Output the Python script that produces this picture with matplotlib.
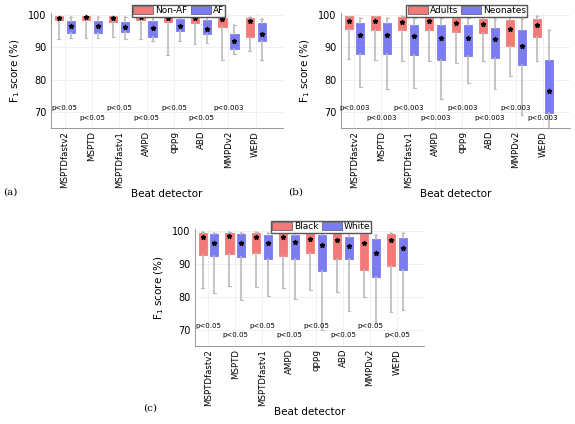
import matplotlib
matplotlib.use("Agg")
import matplotlib.pyplot as plt
from matplotlib.patches import Patch

detectors = ["MSPTDfastv2", "MSPTD", "MSPTDfastv1", "AMPD", "qppg", "ABD", "MMPDv2", "WEPD"]

# each: [whisker low, q1, median, q3, whisker high]
a_nonaf = [[92.5,98.5,99.2,99.7,99.8],[93,98.5,99.3,99.8,99.8],[93.3,97.8,98.9,99.6,99.8],[92.5,98.5,99.3,99.8,99.8],
           [87.5,97.8,99.1,99.6,99.8],[91,97.5,99,99.5,99.8],[86,96.3,98.7,99.2,99.8],[88.8,93.3,98,99.2,99.5]]
a_af = [[93,94.5,96.5,98,99.5],[92.8,94.5,96.6,98,99.5],[92.5,94.8,96.3,97.7,99.5],[92,93.2,96,98.2,99.5],
        [92,95,96.7,98.7,99.5],[91.3,94.2,95.8,98.3,99.5],[87.8,89.5,91.8,94.2,96.8],[86,92,94,97.6,98.8]]
b_adults = [[86.5,95.5,98,99.6,99.8],[86,95.4,98,99.6,99.8],[85.6,95.4,97.8,99.4,99.6],[85.6,95.4,98,99.6,99.8],
            [85.2,94.8,97.6,99.2,99.8],[85.6,94.3,97.3,98.8,99.6],[81,90.5,95.6,98.5,99.6],[85.6,93.2,96.8,98.8,99.6]]
b_neo = [[77.8,88,93.8,97.4,99],[77,88,93.8,97.4,99],[77.3,87.5,93.4,97,99],[74,86.2,93,96.8,99],
         [78.8,87.2,93,96.8,99],[77.2,86.6,92.5,96,98.8],[69,84.5,90.5,95.2,98.8],[60,69.5,76.5,86,95.2]]
c_black = [[82.7,92.8,98.3,99.4,99.8],[83.4,93,98.4,99.5,99.8],[83,93.3,98.3,99.4,99.8],[82.7,92.4,98.3,99.5,99.8],
           [82,93.3,97.7,99.5,99.8],[81.5,91.5,97.4,99.4,99.6],[80,88,96.4,99.2,99.5],[75.2,89.4,97.2,99,99.5]]
c_white = [[81.2,92.5,96.4,99,99.5],[79,92,96.3,99,99.5],[80.2,91.5,96.2,98.9,99.5],[79.3,91.5,96.5,98.8,99.6],
           [70,87.7,95.8,98.7,99.5],[75.6,91.4,95.5,98.2,99.4],[72,86,93.3,97.5,98.7],[76,88.2,94.7,97.8,99.3]]

a_p = ["p<0.05"]*6 + ["p<0.003", ""]
b_p = ["p<0.003"]*8
c_p = ["p<0.05"]*8

RED = "#F47A7A"; BLUE = "#7B7BF2"

fig = plt.figure(figsize=(5.75, 4.24), dpi=100)
W, H = 575, 424

def mkax(l, r, t, b):
    return fig.add_axes([l/W, 1-b/H, (r-l)/W, (b-t)/H])

def panel(ax, g1, g2, pv, labels, tag, tagx, tagy):
    for data, off, col in [(g1, -0.22, RED), (g2, 0.22, BLUE)]:
        stats = [dict(whislo=d[0], q1=d[1], med=d[2], q3=d[3], whishi=d[4], fliers=[]) for d in data]
        pos = [i+1+off for i in range(len(data))]
        ax.bxp(stats, positions=pos, widths=0.3, patch_artist=True, showfliers=False,
               boxprops=dict(facecolor=col, edgecolor=col, linewidth=0.6),
               whiskerprops=dict(color="#BBBBBB", linewidth=1.2),
               capprops=dict(color="#BBBBBB", linewidth=0.8),
               medianprops=dict(linewidth=0), capwidths=0.1)
        ax.plot(pos, [d[2] for d in data], "*", color="black", markersize=3.5, zorder=5)
    for i, p in enumerate(pv):
        if p:
            ax.text(i+1, 71.2 if i % 2 == 0 else 68.2, p, fontsize=5, ha="center", va="center")
    ax.set_xlim(0.5, 9)
    ax.set_ylim(65, 100.6)
    ax.set_yticks([70, 80, 90, 100])
    ax.set_xticks(range(1, 9))
    ax.set_xticklabels(detectors, rotation=90, fontsize=6.2)
    ax.tick_params(axis="y", labelsize=7, length=0)
    ax.tick_params(axis="x", length=0, pad=2)
    ax.grid(True, color="#EEEEEE", linewidth=0.6)
    ax.set_axisbelow(True)
    for s in ["top", "right"]:
        ax.spines[s].set_visible(False)
    for s in ["left", "bottom"]:
        ax.spines[s].set_color("#888888"); ax.spines[s].set_linewidth(0.6)
    ax.set_ylabel("F$_1$ score (%)", fontsize=7.5)
    ax.set_xlabel("Beat detector", fontsize=7.5, labelpad=1)
    ax.legend(handles=[Patch(facecolor=RED, edgecolor="#555555", lw=0.5, label=labels[0]),
                       Patch(facecolor=BLUE, edgecolor="#555555", lw=0.5, label=labels[1])],
              loc="lower center", bbox_to_anchor=(0.55, 0.93), ncol=2, fontsize=6.5,
              handlelength=2.2, handleheight=0.9, columnspacing=0.4, handletextpad=0.2,
              borderpad=0.15, fancybox=False, edgecolor="#555555", framealpha=1)
    fig.text(tagx/W, 1-tagy/H, tag, fontsize=7.5, family="serif", va="center")

panel(mkax(51, 283, 13, 128), a_nonaf, a_af, a_p, ["Non-AF", "AF"], "(a)", 3, 192)
panel(mkax(341, 570, 13, 128), b_adults, b_neo, b_p, ["Adults", "Neonates"], "(b)", 288, 192)
panel(mkax(195, 424, 229, 346), c_black, c_white, c_p, ["Black", "White"], "(c)", 143, 408)

fig.savefig("out.png", dpi=100)
